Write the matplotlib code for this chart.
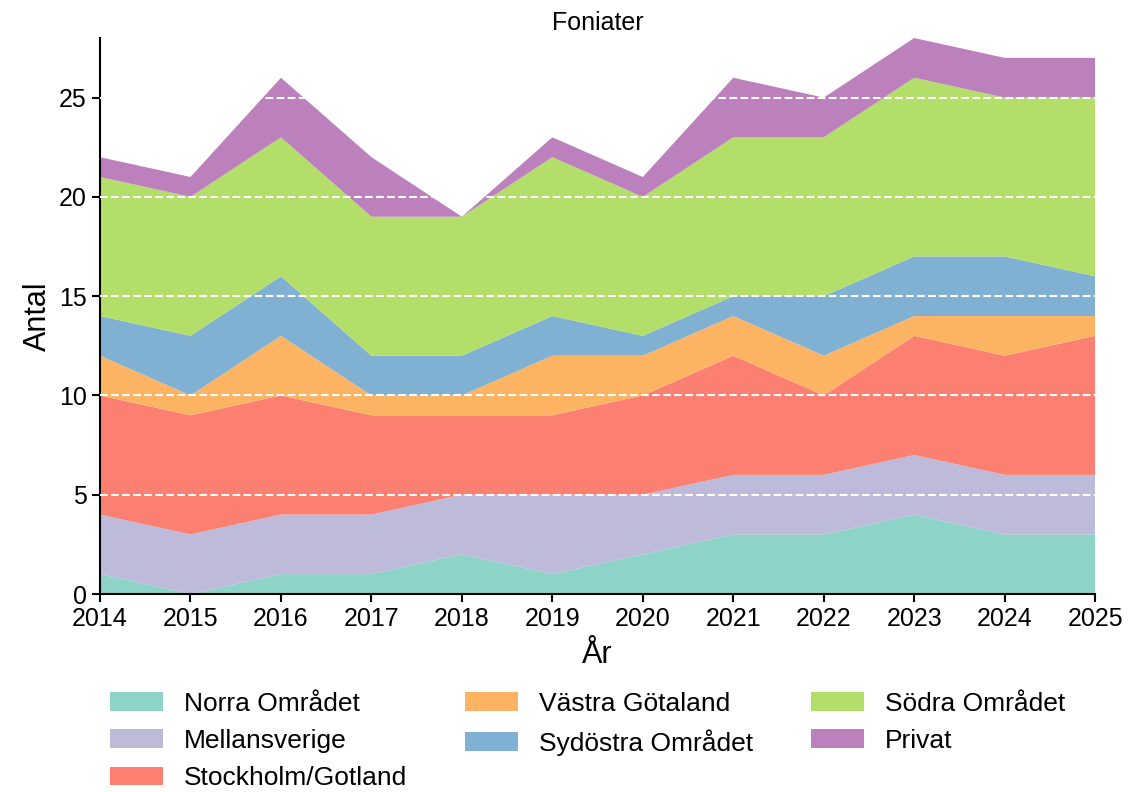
import numpy as np
import matplotlib
matplotlib.use('Agg')
import matplotlib.pyplot as plt

plt.rcParams['font.family'] = ['Liberation Sans', 'DejaVu Sans']

years = list(range(2014, 2026))
regions = ['Norra Området', 'Mellansverige', 'Stockholm/Gotland', 'Västra Götaland',
           'Sydöstra Området', 'Södra Området', 'Privat']
norra = [1, 0, 1, 1, 2, 1, 2, 3, 3, 4, 3, 3]
mellan = [3, 3, 3, 3, 3, 4, 3, 3, 3, 3, 3, 3]
stockholm = [6, 6, 6, 5, 4, 4, 5, 6, 4, 6, 6, 7]
vastra = [2, 1, 3, 1, 1, 3, 2, 2, 2, 1, 2, 1]
sydostra = [2, 3, 3, 2, 2, 2, 1, 1, 3, 3, 3, 2]
sodra = [7, 7, 7, 7, 7, 8, 7, 8, 8, 9, 8, 9]
privat = [1, 1, 3, 3, 0, 1, 1, 3, 2, 2, 2, 2]
colors = ['#8dd3c7', '#bebada', '#fb8072', '#fdb462', '#80b1d3', '#b3de69', '#bc80bd']

fig = plt.figure(figsize=(11.29, 7.92), dpi=100)
ax = fig.add_axes([0.0886, 0.25, 0.8814, 0.702])

ax.stackplot(years, norra, mellan, stockholm, vastra, sydostra, sodra, privat,
             labels=regions, colors=colors)

ax.set_xlim(2014, 2025)
ax.set_ylim(0, 28)
ax.set_xticks(years)
ax.set_yticks([0, 5, 10, 15, 20, 25])
ax.tick_params(labelsize=18, width=1.5, length=6)
ax.set_axisbelow(False)
ax.yaxis.grid(True, color='white', linestyle='--', linewidth=1.5)
# no white dashes over the x axis line
ax.yaxis.get_gridlines()[0].set_visible(False)

for side in ['top', 'right']:
    ax.spines[side].set_visible(False)
for side in ['left', 'bottom']:
    ax.spines[side].set_linewidth(1.5)

ax.set_title('Foniater', fontsize=18)
ax.set_xlabel('År', fontsize=22, labelpad=6)
ax.set_ylabel('Antal', fontsize=22)

ax.legend(loc='upper center', bbox_to_anchor=(0.49, -0.133), ncol=3, frameon=False,
          fontsize=19, handlelength=2.0, handleheight=0.7, labelspacing=0.5,
          columnspacing=2.2)

fig.savefig('out.png', dpi=100)
